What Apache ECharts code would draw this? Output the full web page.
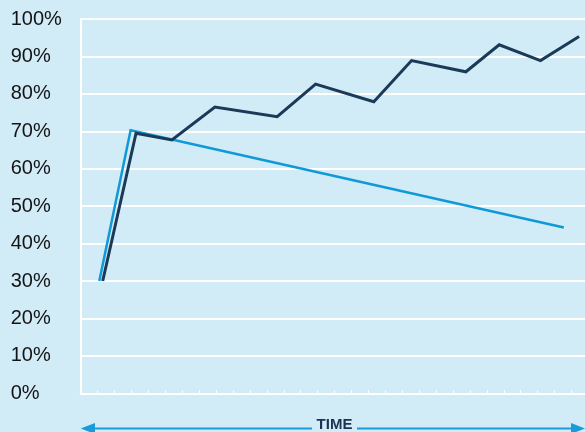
<!DOCTYPE html>
<html>
<head>
<meta charset="utf-8">
<script src="https://cdn.jsdelivr.net/npm/echarts@6/dist/echarts.min.js"></script>
<style>
  html, body { margin: 0; padding: 0; background: #d1ebf7; }
  #chart { width: 585px; height: 432px; }
</style>
</head>
<body>
<div id="chart"></div>
<script>
// values (x = time step, y = percent)
var darkTime = [1.3, 3.27, 5.39, 7.93, 11.61, 13.88, 17.32, 19.55, 22.76, 24.73, 27.17, 29.45];
var darkPct = [30, 69.5, 67.7, 76.5, 73.9, 82.6, 77.9, 88.9, 85.9, 93.1, 88.9, 95.3];
var lightTime = [1.1, 2.95, 28.55];
var lightPct = [30, 70.3, 44.3];
var xAxisName = 'TIME';

var bg = '#d1ebf7';
var arrowColor = '#1a9bd7';
var arrowY = 428.5;

function pairs(xs, ys) {
    return xs.map(function (x, i) { return [x, ys[i]]; });
}

var chart = echarts.init(document.getElementById('chart'));
chart.setOption({
    backgroundColor: bg,
    animation: false,
    grid: { left: 80.7, right: 0, top: 19, bottom: 38.7, containLabel: false, outerBoundsMode: 'none' },
    xAxis: {
        type: 'value',
        min: 0,
        max: 29.8,
        interval: 1,
        axisLine: { show: true, lineStyle: { color: '#ffffff', width: 2 } },
        axisTick: { show: true, inside: true, length: 3, lineStyle: { color: '#ffffff', width: 1 } },
        axisLabel: { show: false },
        splitLine: { show: false }
    },
    yAxis: {
        type: 'value',
        min: 0,
        max: 100,
        interval: 10,
        axisLine: { show: true, lineStyle: { color: '#ffffff', width: 2 } },
        axisTick: { show: false },
        axisLabel: {
            formatter: '{value}%',
            align: 'left',
            margin: 70,
            color: '#141414',
            fontFamily: 'Liberation Sans',
            fontSize: 20
        },
        splitLine: { show: true, lineStyle: { color: '#ffffff', width: 2 } }
    },
    // double arrow with the axis name under the chart
    graphic: [
        { type: 'line', shape: { x1: 88, y1: arrowY, x2: 312, y2: arrowY }, style: { stroke: arrowColor, lineWidth: 2 } },
        { type: 'line', shape: { x1: 357, y1: arrowY, x2: 578, y2: arrowY }, style: { stroke: arrowColor, lineWidth: 2 } },
        { type: 'polygon', shape: { points: [[80.7, arrowY], [95, arrowY - 5.5], [95, arrowY + 5.5]] }, style: { fill: arrowColor } },
        { type: 'polygon', shape: { points: [[585, arrowY], [571, arrowY - 5.5], [571, arrowY + 5.5]] }, style: { fill: arrowColor } },
        {
            type: 'text', x: 334.5, y: 424.5,
            style: {
                text: xAxisName, align: 'center', verticalAlign: 'middle',
                fill: '#1b3352', font: 'bold 15px "Liberation Sans"'
            }
        }
    ],
    series: [{
        type: 'line',
        data: pairs(lightTime, lightPct),
        symbol: 'none',
        lineStyle: { color: '#0f99d7', width: 2.5, join: 'miter' }
    }, {
        type: 'line',
        data: pairs(darkTime, darkPct),
        symbol: 'none',
        lineStyle: { color: '#1b3a58', width: 3, join: 'miter' }
    }]
});
</script>
</body>
</html>
